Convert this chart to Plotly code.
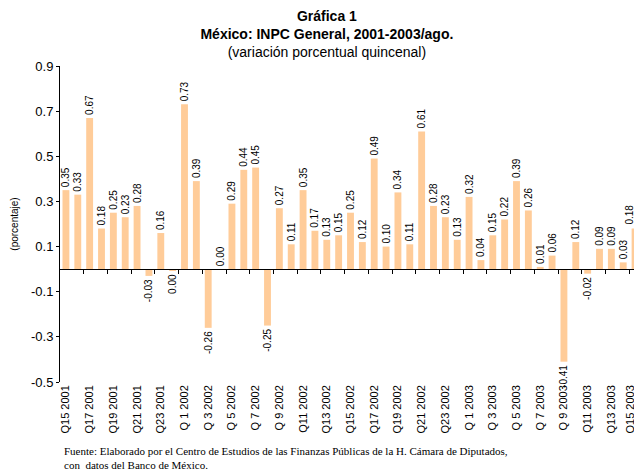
import plotly.graph_objects as go

categories = (
    ["Q15 2001", "Q16 2001", "Q17 2001", "Q18 2001", "Q19 2001", "Q20 2001",
     "Q21 2001", "Q22 2001", "Q23 2001", "Q24 2001"]
    + [f"Q{i:>2} 2002" for i in range(1, 25)]
    + [f"Q{i:>2} 2003" for i in range(1, 16)]
)
values = [0.35, 0.33, 0.67, 0.18, 0.25, 0.23, 0.28, -0.03, 0.16, -0.004,
          0.73, 0.39, -0.26, 0.00, 0.29, 0.44, 0.45, -0.25, 0.27, 0.11,
          0.35, 0.17, 0.13, 0.15, 0.25, 0.12, 0.49, 0.10, 0.34, 0.11,
          0.61, 0.28, 0.23, 0.13, 0.32, 0.04, 0.15, 0.22, 0.39, 0.26,
          0.01, 0.06, -0.41, 0.12, -0.02, 0.09, 0.09, 0.03, 0.18]
ytick_vals = [-0.5, -0.3, -0.1, 0.1, 0.3, 0.5, 0.7, 0.9]

labels = []
for v in values:
    s = f"{v:.2f}"
    if s == "-0.00":
        s = "0.00"
    labels.append(s)

n = len(values)
xpos = list(range(n))
shown_ticks = xpos[::2]
main_ticks = shown_ticks[:-1]          # all but the last (edge) label
last_tick = shown_ticks[-1:]
zero_ticks = [i + 1.5 for i in range(0, n - 1, 2)]

# last bar's value label is drawn as an annotation (pulled in from the edge)
bar_text = labels[:-1] + [""]

FONT = "Liberation Sans, Arial"

fig = go.Figure()
fig.add_trace(go.Bar(
    x=xpos, y=values, marker_color="#FFCC99", marker_line_width=0,
    text=bar_text, textposition="outside", textangle=-90,
    constraintext="none", cliponaxis=False,
    textfont=dict(family=FONT, size=10, color="black"),
))
# invisible traces so the overlay axes are rendered
fig.add_trace(go.Scatter(x=[0], y=[0], xaxis="x2", mode="markers",
                         marker=dict(opacity=0), hoverinfo="skip"))
fig.add_trace(go.Scatter(x=[0], y=[0], xaxis="x3", mode="markers",
                         marker=dict(opacity=0), hoverinfo="skip"))

# the page body has an 8px margin, so the figure is 8px smaller and offset
fig.update_layout(
    width=634, height=467,
    margin=dict(l=52, r=1, t=58, b=93),
    plot_bgcolor="white", paper_bgcolor="white",
    bargap=0.42, showlegend=False,
    font=dict(family=FONT, color="black"),
    title=dict(
        text="<b>Gráfica 1</b><br><b>México: INPC General, 2001-2003/ago.</b><br>(variación porcentual quincenal)",
        x=0.503, xref="container", xanchor="center",
        y=0.972, yref="container", yanchor="top",
        font=dict(family=FONT, size=14, color="black"),
    ),
    xaxis=dict(
        range=[-0.5, n - 0.5], tickmode="array", tickvals=main_ticks,
        ticktext=[categories[i] for i in main_ticks], tickangle=-90,
        ticks="", showline=False, showgrid=False, zeroline=False,
        tickfont=dict(family=FONT, size=11),
    ),
    xaxis2=dict(
        range=[-0.5, n - 0.5], overlaying="x", anchor="free",
        position=0.5 / 1.4, side="bottom", showline=True, linecolor="black",
        linewidth=1, ticks="outside", ticklen=4, tickcolor="black",
        tickvals=zero_ticks, showticklabels=False, showgrid=False,
        zeroline=False,
    ),
    xaxis3=dict(
        range=[-0.5, n - 0.5], overlaying="x", anchor="y", side="bottom",
        tickmode="array", tickvals=last_tick,
        ticktext=[categories[i] for i in last_tick], tickangle=-90,
        ticklabelshift=-5, ticks="", showline=False, showgrid=False,
        zeroline=False, tickfont=dict(family=FONT, size=11),
    ),
    yaxis=dict(
        range=[-0.5, 0.9], tickvals=ytick_vals,
        ticktext=[f"{v:.1f}" for v in ytick_vals],
        showline=True, linecolor="black", linewidth=1,
        ticks="outside", ticklen=3, tickcolor="black",
        showgrid=False, zeroline=False,
        tickfont=dict(family=FONT, size=13),
        title=dict(text="(porcentaje)", standoff=10,
                   font=dict(family=FONT, size=10)),
    ),
    annotations=[
        dict(
            text="Fuente: Elaborado por el Centro de Estudios de las Finanzas Públicas de la H. Cámara de Diputados,<br>con  datos del Banco de México.",
            xref="paper", yref="paper", x=0.003, y=-0.193, xanchor="left",
            yanchor="top", align="left", showarrow=False,
            font=dict(family="Liberation Serif, Times New Roman", size=11, color="black"),
        ),
        dict(
            text=labels[-1], x=xpos[-1], y=values[-1], xref="x", yref="y",
            textangle=-90, xanchor="center", yanchor="bottom",
            xshift=-6, yshift=2, showarrow=False,
            font=dict(family=FONT, size=10, color="black"),
        ),
    ],
)

fig.write_html("out.html")
